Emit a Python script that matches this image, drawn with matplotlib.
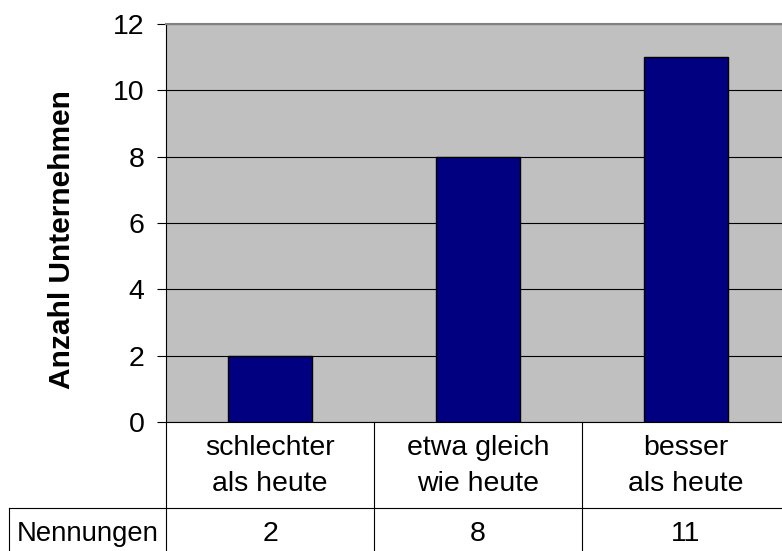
import matplotlib.pyplot as plt

plt.rcParams['font.family'] = ['Liberation Sans', 'DejaVu Sans']

# data
categories = ['schlechter\nals heute', 'etwa gleich\nwie heute', 'besser\nals heute']
values = [2, 8, 11]
row_label = 'Nennungen'
yticks = [0, 2, 4, 6, 8, 10, 12]

fig = plt.figure(figsize=(7.82, 5.51), dpi=100)
W, H = 782, 551
# plot area in pixels
left, right, top, bottom = 166, 790, 24, 422
ax = fig.add_axes([left / W, (H - bottom) / H, (right - left) / W, (bottom - top) / H])
ax.set_facecolor('#c0c0c0')

x = list(range(len(values)))
ax.bar(x, values, width=0.4, color='#000080', edgecolor='black', linewidth=1, zorder=3)

ax.set_xlim(-0.5, len(values) - 0.5)
ax.set_ylim(0, 12)
ax.set_yticks(yticks)
ax.set_yticklabels([str(t) for t in yticks], fontsize=20.5)
ax.tick_params(axis='y', length=6.5, width=0.8, pad=9)
ax.set_xticks([])
ax.yaxis.grid(True, color='black', linewidth=0.8)
ax.set_axisbelow(True)

ax.spines['right'].set_visible(False)
ax.spines['top'].set_color('#808080')
ax.spines['top'].set_linewidth(1.5)
ax.spines['left'].set_linewidth(0.8)
ax.spines['bottom'].set_linewidth(0.8)

# y axis title
fig.text(62 / W, 1 - 240 / H, 'Anzahl Unternehmen', rotation=90, ha='center',
         va='center', fontsize=21.5, fontweight='bold')

# data table below the plot (axes-fraction y, data x)
ph = bottom - top
row1 = -86 / ph        # bottom of category row
row2 = -140 / ph       # past figure bottom
tr = ax.get_xaxis_transform()
x_left = -0.5 - (left - 9) / ((right - left) / 3)
ax.plot([x_left, 2.5], [row1, row1], transform=tr, color='black', lw=0.8, clip_on=False)
ax.plot([x_left, x_left], [row1, row2], transform=tr, color='black', lw=0.8, clip_on=False)
for b in [-0.5, 0.5, 1.5]:
    ax.plot([b, b], [0, row2], transform=tr, color='black', lw=0.8, clip_on=False)

for xi, cat, v in zip(x, categories, values):
    ax.text(xi, -44 / ph, cat, transform=tr, ha='center', va='center',
            fontsize=20.5, linespacing=1.5)
    ax.text(xi, -112 / ph, str(v), transform=tr, ha='center',
            va='center', fontsize=20.5)
ax.text(x_left + 0.038, -112 / ph, row_label, transform=tr,
        ha='left', va='center', fontsize=19.8)

fig.savefig('out.png', dpi=100)
